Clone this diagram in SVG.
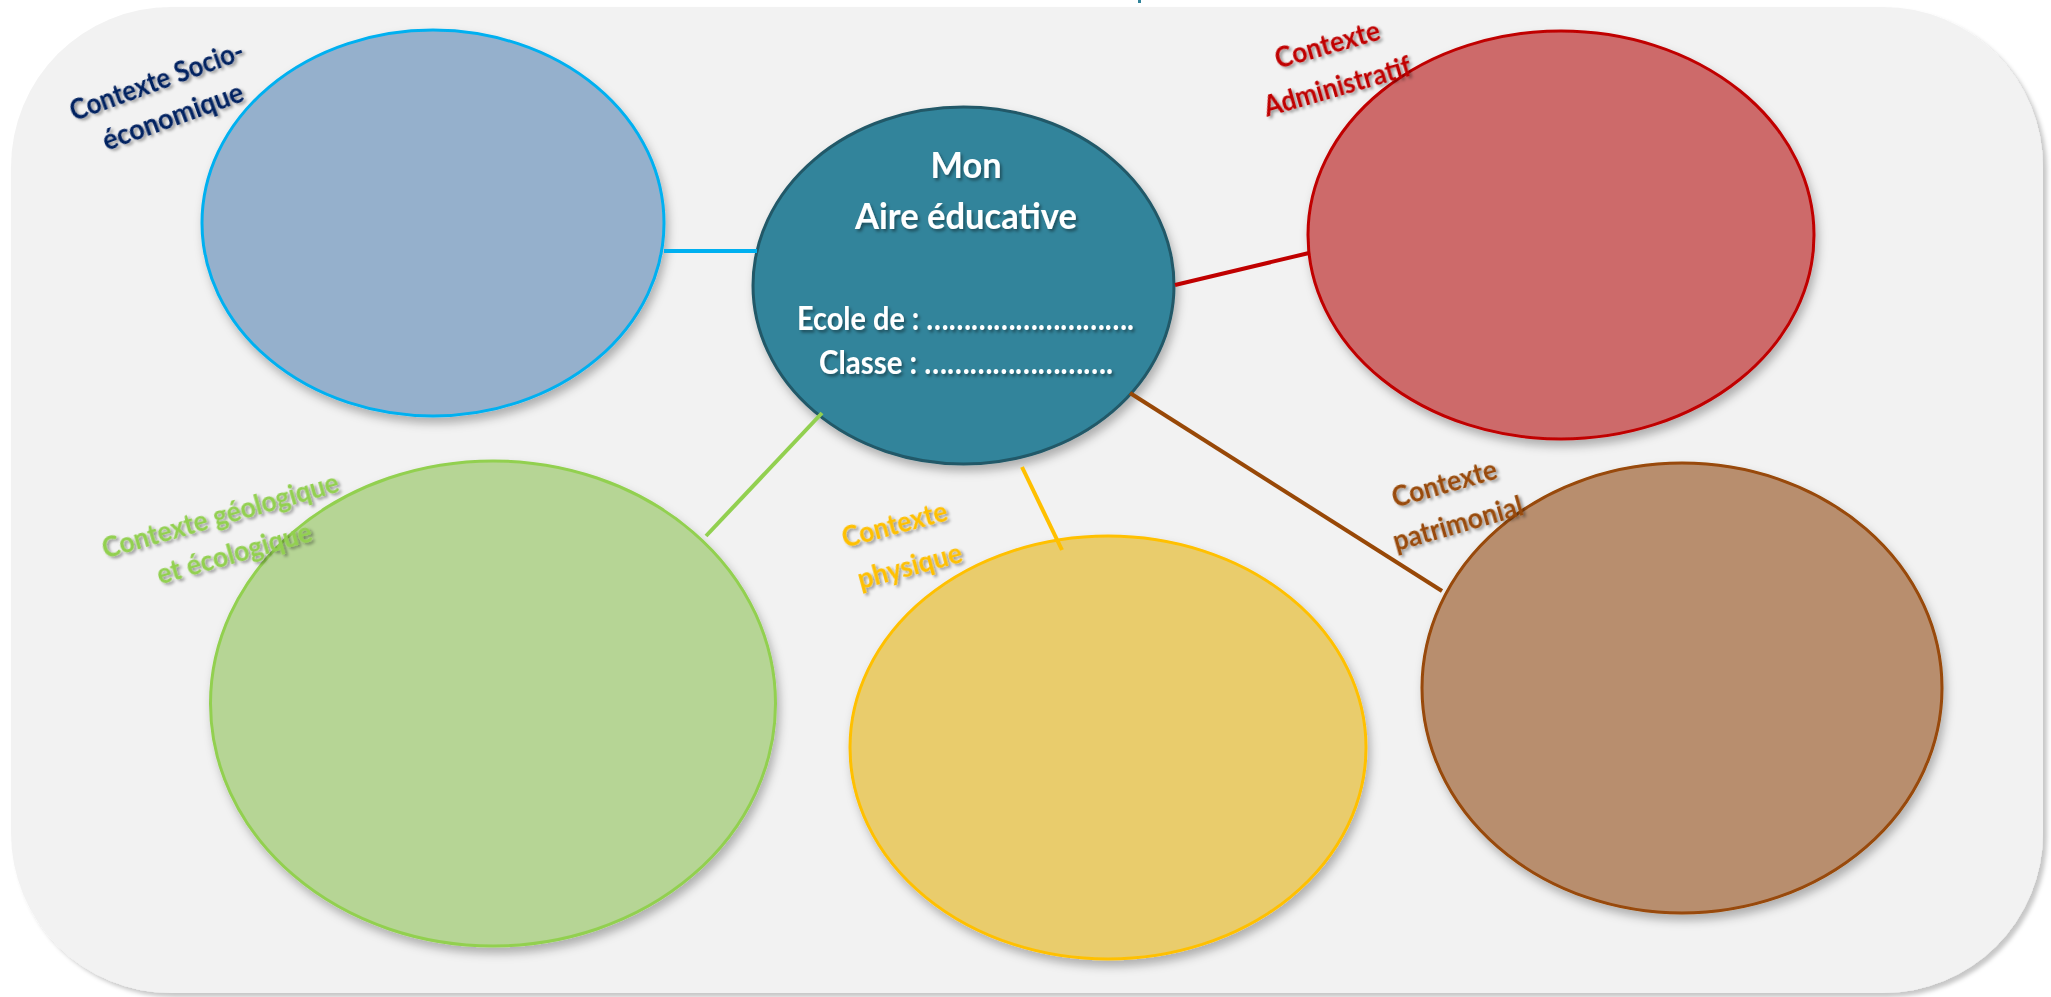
<svg xmlns="http://www.w3.org/2000/svg" width="2051" height="997" viewBox="0 0 2051 997">
<style>
  .lbl { font-family: Lato, "Liberation Sans", Arial, sans-serif; font-weight: bold; font-size: 28px; text-anchor: middle; filter: url(#tshadow); }
  .ctr { font-family: Lato, "Liberation Sans", Arial, sans-serif; font-weight: bold; fill: #ffffff; text-anchor: middle; filter: url(#tshadow); }
  .conn { fill: none; stroke-width: 4; stroke-linecap: butt; }
  .ell { stroke-width: 3; filter: url(#eshadow); }
</style>
<defs>
  <filter id="bgshadow" x="-5%" y="-5%" width="110%" height="110%">
    <feDropShadow dx="4" dy="4" stdDeviation="2" flood-color="#000" flood-opacity="0.22"/>
  </filter>
  <filter id="eshadow" x="-10%" y="-10%" width="125%" height="125%">
    <feDropShadow dx="3" dy="6" stdDeviation="5" flood-color="#000" flood-opacity="0.28"/>
  </filter>
  <filter id="tshadow" x="-10%" y="-30%" width="125%" height="170%">
    <feDropShadow dx="2" dy="2.5" stdDeviation="1.5" flood-color="#000" flood-opacity="0.4"/>
  </filter>
</defs>

<rect id="background" x="11" y="7" width="2032" height="986" rx="160" ry="160" fill="#f2f2f2" filter="url(#bgshadow)"/>
<rect x="1138" y="0" width="3" height="3" fill="#31849b"/>

<g id="node-socio">
  <ellipse class="ell" cx="433" cy="223" rx="231" ry="193" fill="#95b0cc" stroke="#00b0f0"/>
  <g transform="translate(160,90) rotate(-20)">
    <text class="lbl" x="0" y="0" fill="#002060" textLength="183" lengthAdjust="spacingAndGlyphs">Contexte Socio-</text>
    <text class="lbl" x="3" y="39" fill="#002060" textLength="148" lengthAdjust="spacingAndGlyphs">économique</text>
  </g>
</g>

<g id="node-admin">
  <ellipse class="ell" cx="1561" cy="235" rx="253" ry="204" fill="#cd6b6b" stroke="#c00000"/>
  <g transform="translate(1330,54) rotate(-16)">
    <text class="lbl" x="0" y="0" fill="#c00000" textLength="108" lengthAdjust="spacingAndGlyphs">Contexte</text>
    <text class="lbl" x="-2" y="43" fill="#c00000" textLength="152" lengthAdjust="spacingAndGlyphs">Administratif</text>
  </g>
</g>

<g id="node-geo">
  <ellipse class="ell" cx="493" cy="703.5" rx="282.5" ry="242.5" fill="#b6d595" stroke="#92d050"/>
  <g transform="translate(223,525) rotate(-16)">
    <text class="lbl" x="0" y="0" fill="#92d050" textLength="245" lengthAdjust="spacingAndGlyphs">Contexte géologique</text>
    <text class="lbl" x="3" y="40" fill="#92d050" textLength="160" lengthAdjust="spacingAndGlyphs">et écologique</text>
  </g>
</g>

<g id="node-physique">
  <ellipse class="ell" cx="1108" cy="747.5" rx="258" ry="211.5" fill="#e9cc6c" stroke="#ffc000"/>
  <g transform="translate(897,534) rotate(-15)">
    <text class="lbl" x="0" y="0" fill="#ffc000" textLength="108" lengthAdjust="spacingAndGlyphs">Contexte</text>
    <text class="lbl" x="4" y="44" fill="#ffc000" textLength="107" lengthAdjust="spacingAndGlyphs">physique</text>
  </g>
</g>

<g id="node-patrimonial">
  <ellipse class="ell" cx="1682" cy="688" rx="260" ry="225" fill="#b88e6e" stroke="#984807"/>
  <g transform="translate(1447,493) rotate(-16)">
    <text class="lbl" x="0" y="0" fill="#984807" textLength="108" lengthAdjust="spacingAndGlyphs">Contexte</text>
    <text class="lbl" x="2" y="42" fill="#984807" textLength="134" lengthAdjust="spacingAndGlyphs">patrimonial</text>
  </g>
</g>

<g id="node-center">
  <ellipse class="ell" cx="963.5" cy="285.5" rx="210.5" ry="178.5" fill="#31849b" stroke="#215968" stroke-width="2"/>
  <text class="ctr" x="966" y="178" font-size="36" textLength="71" lengthAdjust="spacingAndGlyphs">Mon</text>
  <text class="ctr" x="966" y="229" font-size="36" textLength="222" lengthAdjust="spacingAndGlyphs">Aire éducative</text>
  <text class="ctr" x="965.5" y="330" font-size="33" textLength="337" lengthAdjust="spacingAndGlyphs">Ecole de : ……………………….</text>
  <text class="ctr" x="966" y="374" font-size="33" textLength="294" lengthAdjust="spacingAndGlyphs">Classe : …………………….</text>
</g>

<g id="connectors">
  <line class="conn" x1="664" y1="251" x2="757" y2="251" stroke="#00b0f0"/>
  <line class="conn" x1="1175" y1="285" x2="1309" y2="253" stroke="#c00000"/>
  <line class="conn" x1="822" y1="413" x2="706" y2="536" stroke="#92d050"/>
  <line class="conn" x1="1022" y1="467" x2="1062" y2="550" stroke="#ffc000"/>
  <line class="conn" x1="1130" y1="393" x2="1442" y2="591" stroke="#984807"/>
</g>
</svg>
